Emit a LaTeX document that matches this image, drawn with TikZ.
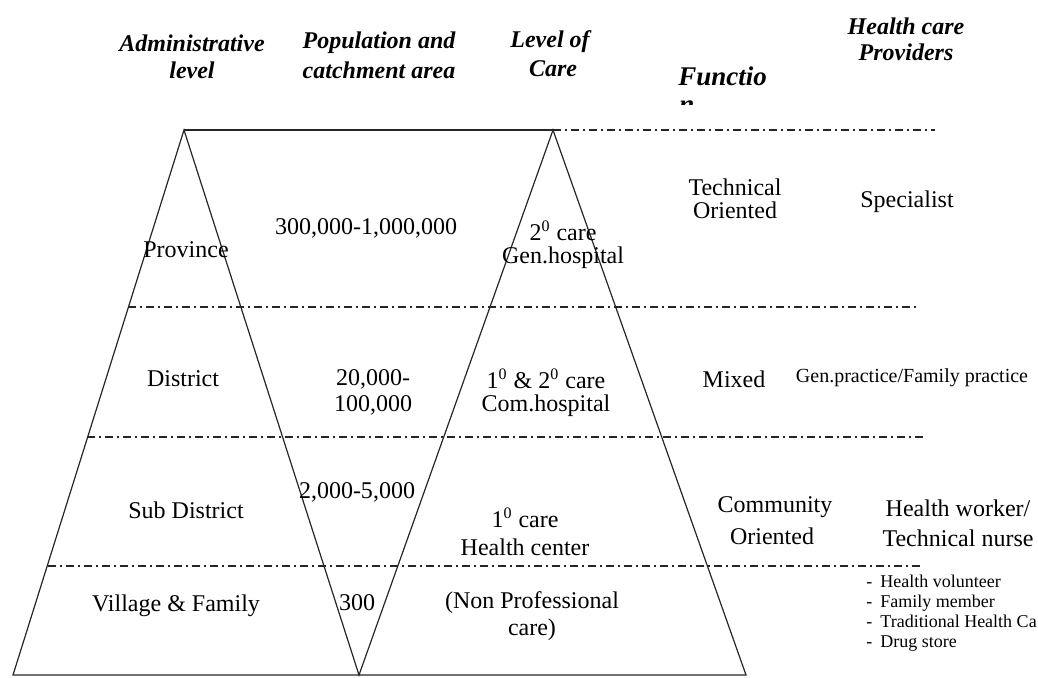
\documentclass[tikz,border=0pt]{standalone}
\usepackage{fontspec}
\setmainfont{Liberation Serif}
\usetikzlibrary{positioning}

\tikzset{
	hdr/.style={font=\fontsize{12}{14}\selectfont\bfseries\itshape, inner sep=1pt},
	txt/.style={font=\fontsize{12}{14}\selectfont, inner sep=1pt},
	small/.style={font=\fontsize{10}{12}\selectfont, inner sep=1pt},
	tiny/.style={font=\fontsize{9}{10}\selectfont, anchor=base west, inner sep=0pt},
	frame/.style={line width=0.6pt, color=black!85},
	level/.style={line width=0.8pt, color=black!85, dash pattern=on 4pt off 2pt on 1pt off 2pt}
}

\begin{document}
\begin{tikzpicture}[x=0.5pt, y=-0.5pt]
		\useasboundingbox (0,0) rectangle (1038,677);
		%%%%% START %%%%%
		
		% headers
		\node[hdr] (adm) at (192,43) {Administrative};
		\node[hdr] (admb) at (192,70) {level};
		\node[hdr] (pop) at (379,43) {Population and};
		\node[hdr] (popb) at (379,70) {catchment area};
		\node[hdr] (loc) at (550,42) {Level of};
		\node[hdr] (locb) at (553,69) {Care};
		\node[hdr, font=\fontsize{13.5}{15}\selectfont\bfseries\itshape, anchor=west, inner sep=0pt] (fun) at (678,76) {Functio};
		\begin{scope}
			\clip (670,98) rectangle (760,104);
			\node[hdr, font=\fontsize{13.5}{15}\selectfont\bfseries\itshape, anchor=north west, inner sep=0pt] (funb) at (679,100) {n};
		\end{scope}
		\node[hdr] (hcp) at (906,26) {Health care};
		\node[hdr] (hcpb) at (906,52) {Providers};
		
		% the two triangles
		\draw[frame] (184,130) -- (553,130);
		\draw[frame] (13,675) -- (184,130) -- (359,675) -- (553,130) -- (746,675) -- cycle;
		
		% level lines
		\draw[level] (553,130) -- (935,130);
		\draw[level] (128,307) -- (918,307);
		\draw[level] (87,437) -- (923,437);
		\draw[level] (48,566) -- (920,566);
		
		% province
		\node[txt] (prov) at (186,250) {Province};
		\node[txt] (provpop) at (366,228) {300,000-1,000,000};
		\node[txt] (provcare) at (563,231) {2\textsuperscript{0} care};
		\node[txt] (provcareb) at (563,258) {Gen.hospital};
		\node[txt] (provfun) at (735,187) {Technical};
		\node[txt] (provfunb) at (735,210) {Oriented};
		\node[txt] (provhcp) at (907,202) {Specialist};
		
		% district
		\node[txt] (dist) at (183,379) {District};
		\node[txt] (distpop) at (373,379) {20,000-};
		\node[txt] (distpopb) at (373,405) {100,000};
		\node[txt] (distcare) at (546,379) {1\textsuperscript{0} \& 2\textsuperscript{0} care};
		\node[txt] (distcareb) at (546,406) {Com.hospital};
		\node[txt] (distfun) at (734,379) {Mixed};
		\node[small] (disthcp) at (912,378) {Gen.practice/Family practice};
		
		% sub district
		\node[txt] (sub) at (186,510) {Sub District};
		\node[txt] (subpop) at (357,492) {2,000-5,000};
		\node[txt] (subcare) at (525,518) {1\textsuperscript{0} care};
		\node[txt] (subcareb) at (525,547) {Health center};
		\node[txt] (subfun) at (775,507) {Community};
		\node[txt] (subfunb) at (772,536) {Oriented};
		\node[txt] (subhcp) at (958,508) {Health worker/};
		\node[txt] (subhcpb) at (958,538) {Technical nurse};
		
		% village
		\node[txt] (vil) at (176,606) {Village \& Family};
		\node[txt] (vilpop) at (357,603) {300};
		\node[txt] (vilcare) at (532,603) {(Non Professional};
		\node[txt] (vilcareb) at (532,630) {care)};
		\foreach \item [count=\i] in {Health volunteer, Family member, Traditional Health Ca, Drug store} {
			\node[tiny] (vildash\i) at (866,567+20*\i) {-};
			\node[tiny] (vilhcp\i) at (880,567+20*\i) {\item};
		}
		
		%%%%% END %%%%%
	\end{tikzpicture}
\end{document}
